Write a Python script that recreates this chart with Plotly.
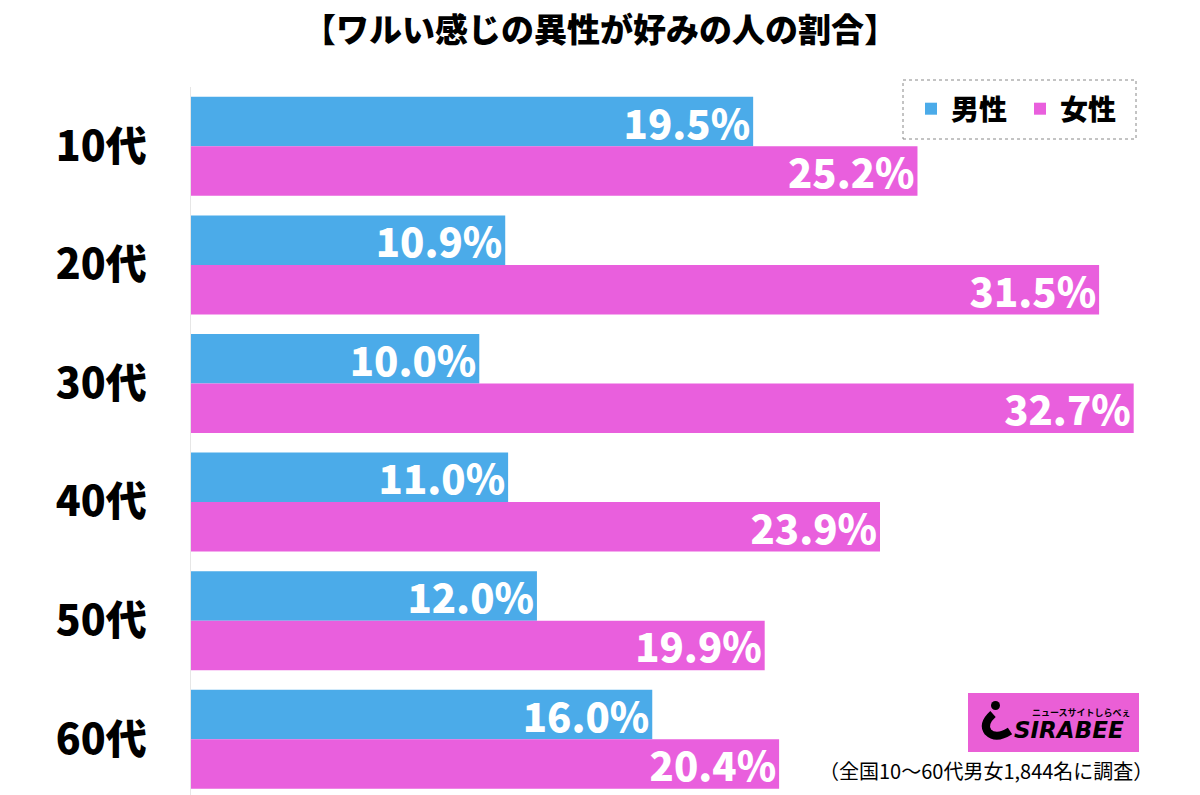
import plotly.graph_objects as go

categories = ["10代", "20代", "30代", "40代", "50代", "60代"]
male = [19.5, 10.9, 10.0, 11.0, 12.0, 16.0]
female = [25.2, 31.5, 32.7, 23.9, 19.9, 20.4]
series_names = ["男性", "女性"]
title_text = "【ワルい感じの異性が好みの人の割合】"
note_text = "（全国10〜60代男女1,844名に調査）"

BLUE = "#4BABE9"
PINK = "#E95FDD"
FONT = "Noto Sans CJK JP"

OFF = 8  # browser body margin
W, H = 1200 - OFF, 795 - OFF
ML, MR, MT, MB = 191 - OFF, 0, 87 - OFF, 0
PW, PH = W - ML - MR, H - MT - MB

def px(x):
    return (x - OFF - ML) / PW

def py(y):
    return (H - MB - (y - OFF)) / PH

fig = go.Figure()
for name, vals, col in [(series_names[0], male, BLUE), (series_names[1], female, PINK)]:
    fig.add_trace(go.Bar(
        y=categories, x=vals, name=name, orientation="h",
        marker=dict(color=col, line=dict(width=0)),
        texttemplate="%{x:.1f}%", textposition="inside", insidetextanchor="end",
        textfont=dict(family=FONT, size=40, color="white", weight=900),
        constraintext="none", cliponaxis=False,
    ))

fig.update_layout(
    width=W, height=H,
    margin=dict(l=ML, r=MR, t=MT, b=MB),
    paper_bgcolor="white", plot_bgcolor="white",
    barmode="group", bargap=0.165, bargroupgap=0,
    xaxis=dict(range=[0, 35], showgrid=False, zeroline=False, showticklabels=False,
               showline=False, ticks=""),
    yaxis=dict(range=[5.47, -0.5], showgrid=False, zeroline=False, showline=True,
               linecolor="#e6e6e6", linewidth=1, ticks="",
               tickfont=dict(family=FONT, size=41, color="black", weight=900),
               ticklabelstandoff=35),
    legend=dict(orientation="h", x=px(911), xanchor="left", y=py(109), yanchor="middle",
                font=dict(family=FONT, size=28, color="black", weight=900),
                bgcolor="rgba(0,0,0,0)", borderwidth=0, itemwidth=30,
                entrywidth=64, entrywidthmode="pixels",
                traceorder="normal"),
    showlegend=True,
)

# title
fig.add_annotation(xref="paper", yref="paper", x=px(600), y=py(28), xanchor="center",
                   yanchor="middle", text=title_text, showarrow=False,
                   font=dict(family=FONT, size=33, color="black", weight=900))

# legend dotted box
fig.add_shape(type="rect", xref="paper", yref="paper",
              x0=px(903), x1=px(1136), y0=py(139), y1=py(80),
              line=dict(color="#888888", width=1, dash="dot"), fillcolor="rgba(0,0,0,0)")

# logo
fig.add_shape(type="rect", xref="paper", yref="paper",
              x0=px(968), x1=px(1139), y0=py(752), y1=py(693),
              line=dict(width=0), fillcolor="#EA5FD6")
fig.add_shape(type="circle", xref="paper", yref="paper",
              x0=px(991), x1=px(1000), y0=py(710), y1=py(701),
              line=dict(width=0), fillcolor="black")
fig.add_shape(type="path", xref="paper", yref="paper",
              path=(f"M {px(993)} {py(714)} Q {px(982)} {py(724)} {px(988)} {py(732)} "
                    f"Q {px(996)} {py(740)} {px(1010)} {py(731)}"),
              line=dict(color="black", width=8), fillcolor="rgba(0,0,0,0)")
fig.add_annotation(xref="paper", yref="paper", x=px(1069), y=py(730), xanchor="center",
                   yanchor="middle", text="<b><i>SIRABEE</i></b>",
                   showarrow=False, font=dict(family="DejaVu Sans", size=23, color="black"))
fig.add_annotation(xref="paper", yref="paper", x=px(1081), y=py(712), xanchor="center",
                   yanchor="middle", text="ニュースサイトしらべぇ",
                   showarrow=False, font=dict(family=FONT, size=9, color="black", weight="bold"))

# footnote
fig.add_annotation(xref="paper", yref="paper", x=px(1155), y=py(770), xanchor="right",
                   yanchor="middle", text=note_text, showarrow=False,
                   font=dict(family=FONT, size=20, color="black"))

fig.write_html("out.html")
